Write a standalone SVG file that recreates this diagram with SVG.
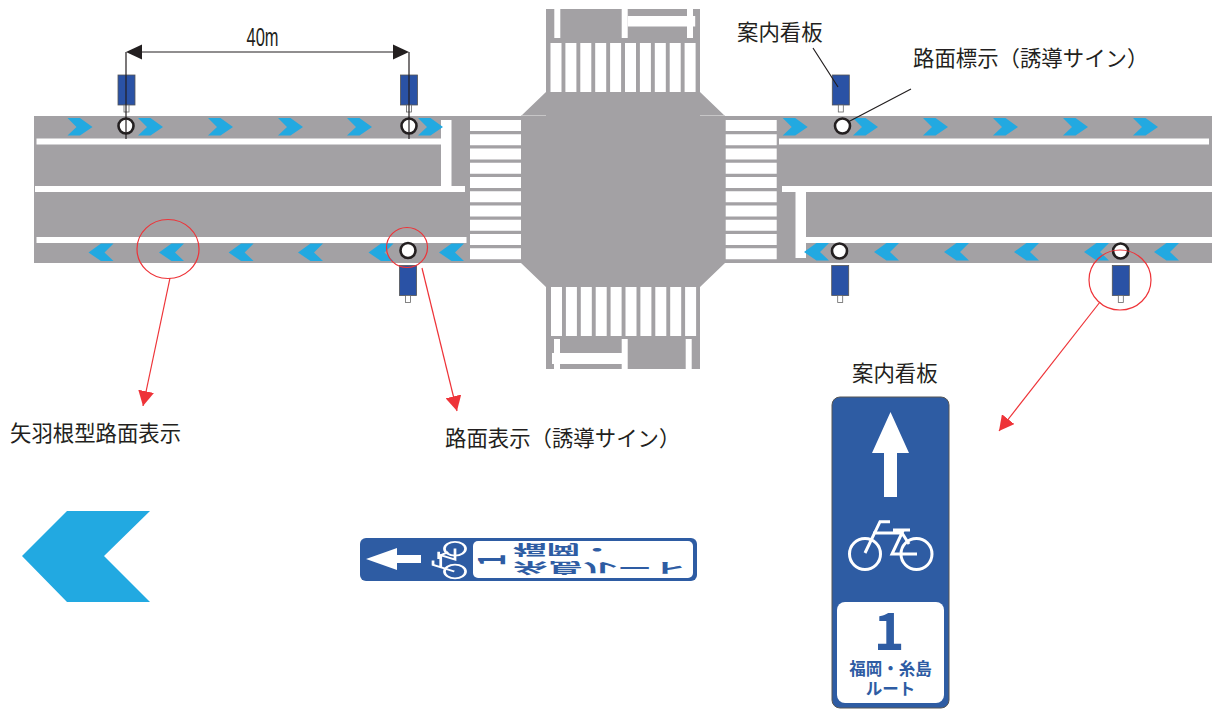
<svg xmlns="http://www.w3.org/2000/svg" width="1216" height="709" viewBox="0 0 1216 709">
<style>
.road{fill:#a3a1a4}
.w{fill:#fff}
.cr{fill:#22a9e1}
.mk{fill:#fff;stroke:#231f20;stroke-width:2.600}
.sg{fill:#2a52a5;stroke:#555;stroke-width:.8}
.po{fill:#fff;stroke:#666;stroke-width:.8}
.blk{stroke:#231f20;stroke-width:1.2;fill:none}
.red{stroke:#ee3338;stroke-width:1.2;fill:none}
.t{font-family:"Noto Sans CJK JP","Noto Sans",sans-serif;font-size:21.4px;fill:#231f20}
.sb{font-family:"Noto Sans CJK JP","Liberation Sans",sans-serif;font-weight:700;fill:#2e5ca3}
.bl{fill:none;stroke:#fff;stroke-linejoin:miter}
</style>
<defs>
<polygon id="cR" points="0,0 12.5,0 25,9 12.5,17.5 0,17.5 9,9"/>
<polygon id="cL" points="25,0 12.5,0 0,9 12.5,17.5 25,17.5 16,9"/>
<g id="st"><rect width="51" height="11" class="w"/></g>
<g id="sv"><rect width="11" height="49" class="w"/></g>
<g id="sign"><rect x="0" y="0" width="17" height="30" class="sg"/><rect x="6" y="30" width="5" height="7" class="po"/></g>
<g id="bike">
<circle cx="865" cy="554" r="15.500" class="bl"/><circle cx="916.500" cy="554" r="15.500" class="bl"/>
<path class="bl" d="M890 521.700H880L865 553M873 533H902L892 554H917M893 530H910M902 533L909 544"/>
</g>
<marker id="ra" viewBox="0 0 15 16" refX="15" refY="8" markerWidth="15" markerHeight="16" markerUnits="userSpaceOnUse" orient="auto"><path d="M0,0L15,8L0,16Z" fill="#ee3338"/></marker>
</defs>

<g id="road">
<rect class="road" x="34" y="116" width="488" height="147"/>
<rect class="road" x="724" y="116" width="488" height="147"/>
<polygon class="road" points="546,9 700,9 700,92 725,116 725,263 700,287 700,369 546,369 546,287 521,263 521,116 546,92"/>
<path d="M521 115.500H546M700 115.500H725" stroke="#d0cfd1" stroke-width=".8"/>
<g id="markings">
<rect class="w" x="36.500" y="138.500" width="406" height="6"/>
<rect class="w" x="441" y="120" width="10.500" height="67"/>
<rect class="w" x="35" y="186" width="430" height="6"/>
<rect class="w" x="36.500" y="237" width="430" height="6"/>
<rect class="w" x="779" y="138.500" width="430" height="6"/>
<rect class="w" x="782" y="186" width="430" height="6"/>
<rect class="w" x="795.500" y="192" width="10.500" height="66"/>
<rect class="w" x="806" y="237" width="406" height="6"/>
<rect class="w" x="554.300" y="9" width="6" height="29"/>
<rect class="w" x="621.700" y="9" width="6" height="29"/>
<rect class="w" x="627.700" y="16" width="67.500" height="10.500"/>
<rect class="w" x="687" y="9" width="6" height="29"/>
<rect class="w" x="554" y="339" width="6" height="30"/>
<rect class="w" x="552" y="353" width="70" height="11"/>
<rect class="w" x="621.700" y="339" width="6" height="30"/>
<rect class="w" x="685.700" y="339" width="6" height="30"/>
</g>
<g id="crosswalks">
<use href="#st" x="470" y="120"/><use href="#st" x="470" y="134.250"/><use href="#st" x="470" y="148.500"/><use href="#st" x="470" y="162.750"/><use href="#st" x="470" y="177"/><use href="#st" x="470" y="191.250"/><use href="#st" x="470" y="205.500"/><use href="#st" x="470" y="219.750"/><use href="#st" x="470" y="234"/><use href="#st" x="470" y="248.250"/>
<use href="#st" x="725.700" y="120"/><use href="#st" x="725.700" y="134.250"/><use href="#st" x="725.700" y="148.500"/><use href="#st" x="725.700" y="162.750"/><use href="#st" x="725.700" y="177"/><use href="#st" x="725.700" y="191.250"/><use href="#st" x="725.700" y="205.500"/><use href="#st" x="725.700" y="219.750"/><use href="#st" x="725.700" y="234"/><use href="#st" x="725.700" y="248.250"/>
<use href="#sv" x="550.500" y="43"/><use href="#sv" x="565.400" y="43"/><use href="#sv" x="580.300" y="43"/><use href="#sv" x="595.200" y="43"/><use href="#sv" x="610.100" y="43"/><use href="#sv" x="625" y="43"/><use href="#sv" x="639.900" y="43"/><use href="#sv" x="654.800" y="43"/><use href="#sv" x="669.700" y="43"/><use href="#sv" x="684.600" y="43"/>
<use href="#sv" x="551" y="287"/><use href="#sv" x="565.900" y="287"/><use href="#sv" x="580.800" y="287"/><use href="#sv" x="595.700" y="287"/><use href="#sv" x="610.600" y="287"/><use href="#sv" x="625.500" y="287"/><use href="#sv" x="640.400" y="287"/><use href="#sv" x="655.300" y="287"/><use href="#sv" x="670.200" y="287"/><use href="#sv" x="685.100" y="287"/>
</g>
<g id="chevrons" class="cr">
<use href="#cR" x="67.500" y="118"/><use href="#cR" x="138" y="118"/><use href="#cR" x="208" y="118"/><use href="#cR" x="278" y="118"/><use href="#cR" x="347" y="118"/><use href="#cR" x="418" y="118"/>
<use href="#cL" x="88.500" y="243.500"/><use href="#cL" x="159" y="243.500"/><use href="#cL" x="228.600" y="243.500"/><use href="#cL" x="298" y="243.500"/><use href="#cL" x="368.500" y="243.500"/><use href="#cL" x="439" y="243.500"/>
<use href="#cR" x="782.700" y="118"/><use href="#cR" x="853" y="118"/><use href="#cR" x="923" y="118"/><use href="#cR" x="993" y="118"/><use href="#cR" x="1063" y="118"/><use href="#cR" x="1133" y="118"/>
<use href="#cL" x="804" y="243"/><use href="#cL" x="874" y="243"/><use href="#cL" x="944" y="243"/><use href="#cL" x="1014" y="243"/><use href="#cL" x="1084" y="243"/><use href="#cL" x="1154" y="243"/>
</g>
</g>

<g id="signs">
<use href="#sign" x="118" y="75"/><use href="#sign" x="400.500" y="75"/><use href="#sign" x="832.300" y="75"/>
<use href="#sign" x="399.500" y="265.500"/><use href="#sign" x="831.700" y="265.500"/><use href="#sign" x="1112.300" y="265.500"/>
</g>
<g id="road-marks">
<circle class="mk" cx="126" cy="126" r="7.500"/><circle class="mk" cx="409" cy="126" r="7.500"/><circle class="mk" cx="842.500" cy="126" r="7.500"/>
<circle class="mk" cx="408" cy="250.500" r="7.500"/><circle class="mk" cx="839.500" cy="251" r="7.500"/><circle class="mk" cx="1120.600" cy="251" r="7.500"/>
</g>

<g id="connectors">
<path class="blk" d="M126 52V139M409 52V139M142 52H393"/>
<polygon points="126,52 142,44.500 142,59.500" fill="#231f20"/>
<polygon points="409,52 393,44.500 393,59.500" fill="#231f20"/>
<path class="blk" d="M813 48L838 87M911 89L848 122"/>
<ellipse class="red" cx="168" cy="249" rx="31" ry="29.500"/>
<ellipse class="red" cx="407" cy="247.500" rx="20.500" ry="20"/>
<ellipse class="red" cx="1120" cy="280" rx="31" ry="30"/>
<path class="red" marker-end="url(#ra)" d="M170 278L143 406"/>
<path class="red" marker-end="url(#ra)" d="M422 268L457 411"/>
<path class="red" marker-end="url(#ra)" d="M1100 302L999 431"/>
</g>

<g id="labels">
<text x="246.500" y="46" font-family="'Liberation Sans',sans-serif" font-size="26" fill="#231f20" textLength="32" lengthAdjust="spacingAndGlyphs">40m</text>
<text class="t" x="737" y="40">案内看板</text>
<text class="t" x="913" y="66">路面標示（誘導サイン）</text>
<text class="t" x="10" y="441">矢羽根型路面表示</text>
<text class="t" x="445" y="446">路面表示（誘導サイン）</text>
<text class="t" x="852" y="381">案内看板</text>
</g>

<polygon id="big-chevron" class="cr" points="22,556 67,511 150,511 104,556 150,602 67,602"/>

<g id="small-sign">
<rect x="360" y="538" width="337" height="43" rx="6" fill="#2e5ca3"/>
<rect x="473" y="541" width="220" height="37" rx="5" fill="#fff"/>
<polygon fill="#fff" points="366,559 397,548 397,555 421,555 421,563 397,563 397,570"/>
<g stroke-width="4" transform="translate(455,560) rotate(-90) scale(.44,.68) translate(-891,-554)"><use href="#bike"/></g>
<text class="sb" transform="translate(505,560) rotate(-90) scale(.55,1)" font-size="37" text-anchor="middle" font-family="'Liberation Sans',sans-serif">1</text>
<text class="sb" transform="translate(513,544.500) scale(2.400,-1)" font-size="14">福岡・</text>
<text class="sb" transform="translate(513,562.500) scale(2.480,-1)" font-size="14">糸島ルート</text>
</g>

<g id="big-sign">
<rect x="832" y="397" width="117" height="311" rx="8" fill="#2e5ca3" stroke="#555" stroke-width="1"/>
<polygon fill="#fff" points="890.500,412 909,453 897,453 897,497 884,497 884,453 872,453"/>
<g stroke-width="3"><use href="#bike"/></g>
<rect x="837" y="602" width="107" height="101" rx="8" fill="#fff"/>
<text class="sb" x="889" y="650" font-size="52" text-anchor="middle" font-family="'Liberation Sans',sans-serif">1</text>
<text class="sb" x="890.500" y="675" font-size="16.500" text-anchor="middle">福岡・糸島</text>
<text class="sb" x="890.500" y="695" font-size="16.500" text-anchor="middle">ルート</text>
</g>
</svg>
